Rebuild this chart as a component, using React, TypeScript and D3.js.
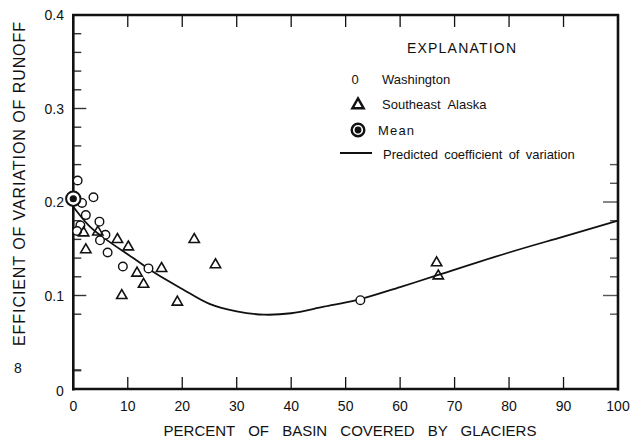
import React from "react";
import * as d3 from "d3";

const washington: [number, number][] = [
  [0.8, 0.223], [3.7, 0.205], [1.6, 0.199], [2.3, 0.186], [1.3, 0.175],
  [4.8, 0.179], [0.7, 0.169], [5.9, 0.165], [4.9, 0.159], [6.3, 0.146],
  [9.1, 0.131], [13.8, 0.129], [52.7, 0.095],
];
const alaska: [number, number][] = [
  [1.9, 0.168], [4.5, 0.169], [2.3, 0.15], [8.1, 0.161], [10.1, 0.153],
  [11.7, 0.125], [12.9, 0.113], [8.9, 0.101], [16.2, 0.13], [22.2, 0.161],
  [19.1, 0.094], [26.1, 0.134], [66.7, 0.136], [67.0, 0.122],
];
const meanPoint: [number, number] = [0, 0.2035];
const predicted: [number, number][] = [
  [0, 0.195], [3, 0.174], [6, 0.16], [11, 0.14], [15, 0.124], [20, 0.107],
  [25, 0.091], [30, 0.083], [35, 0.0795], [40, 0.081], [46, 0.088], [52, 0.095],
  [60, 0.109], [67, 0.122], [80, 0.146], [90, 0.163], [100, 0.18],
];
const xTicks = [0, 10, 20, 30, 40, 50, 60, 70, 80, 90, 100];
const yLabels = ["0.4", "0.3", "0.2", "0.1"];
const yLabelValues = [0.4, 0.3, 0.2, 0.1];
const leftTicks = [0.02, 0.08, 0.1, 0.12, 0.14, 0.16, 0.18, 0.2, 0.22, 0.24, 0.26, 0.28, 0.3, 0.32, 0.34, 0.36, 0.38];
const rightTicks = [0.08, 0.1, 0.12, 0.14, 0.16, 0.18, 0.2, 0.22, 0.24];

const FONT = "'Liberation Sans', Arial, sans-serif";

export default function App() {
  const x = d3.scaleLinear().domain([0, 100]).range([73.3, 618]);
  const y = d3.scaleLinear().domain([0, 0.4]).range([389, 15]);
  const line = d3
    .line<[number, number]>()
    .x((d) => x(d[0]))
    .y((d) => y(d[1]))
    .curve(d3.curveCatmullRom.alpha(0.5));
  const tri = d3.symbol(d3.symbolTriangle, 46)() as string;
  const triLegend = d3.symbol(d3.symbolTriangle, 56)() as string;
  const isMajor = (v: number) => Math.abs(v * 10 - Math.round(v * 10)) < 1e-6;
  const ink = "#111";

  return (
    <svg width={631} height={438} style={{ position: "absolute", left: 0, top: 0, background: "#fff" }} fontFamily={FONT}>
      <rect x={0} y={0} width={631} height={438} fill="#fff" />
      {leftTicks.map((v) => (
        <line key={"lt" + v} x1={x(0)} x2={x(0) + (isMajor(v) ? 13 : 8)} y1={y(v)} y2={y(v)} stroke="#333" strokeWidth={v === 0.02 ? 2.2 : 1.4} />
      ))}
      {rightTicks.map((v) => (
        <line key={"rt" + v} x1={x(100)} x2={x(100) - (isMajor(v) ? 15 : 8)} y1={y(v)} y2={y(v)} stroke="#555" strokeWidth={1.4} />
      ))}
      {xTicks.map((v) => (
        <g key={"xt" + v}>
          {v > 0 && v < 100 && (
            <>
              <line x1={x(v)} x2={x(v)} y1={y(0.4)} y2={y(0.4) + 12} stroke={ink} strokeWidth={1.3} />
              <line x1={x(v)} x2={x(v)} y1={y(0)} y2={y(0) - 12} stroke={ink} strokeWidth={1.3} />
            </>
          )}
          <text x={x(v)} y={411} fontSize={14} textAnchor="middle" fill={ink}>{v}</text>
        </g>
      ))}
      <line x1={x(0)} x2={x(0)} y1={y(0.4) - 1} y2={y(0) + 1.5} stroke={ink} strokeWidth={2.6} />
      <line x1={x(100)} x2={x(100)} y1={y(0.4) - 1} y2={y(0) + 1.5} stroke={ink} strokeWidth={2.6} />
      <line x1={x(0) - 1} x2={x(100) + 1} y1={y(0.4)} y2={y(0.4)} stroke={ink} strokeWidth={2.6} />
      <line x1={x(0) - 1} x2={x(100) + 1} y1={y(0)} y2={y(0)} stroke={ink} strokeWidth={2.6} />

      {yLabels.map((t, i) => (
        <text key={t} x={64} y={y(yLabelValues[i]) + 5} fontSize={14} textAnchor="end" fill={ink}>{t}</text>
      ))}
      <text x={60} y={y(0) + 7} fontSize={14} textAnchor="middle" fill={ink}>0</text>
      <text x={18} y={y(0.02) + 3} fontSize={14} textAnchor="middle" fill={ink}>8</text>

      <text
        transform={`translate(25,184) rotate(-90)`}
        fontSize={16}
        textAnchor="middle"
        textLength={324}
        lengthAdjust="spacing"
        fill={ink}
      >
        EFFICIENT OF VARIATION OF RUNOFF
      </text>
      <text x={350} y={436} fontSize={15} textAnchor="middle" wordSpacing={9} fill={ink}>
        PERCENT OF BASIN COVERED BY GLACIERS
      </text>

      <path d={line(predicted) as string} fill="none" stroke={ink} strokeWidth={1.8} />

      {washington.map((d, i) => (
        <circle key={"w" + i} cx={x(d[0])} cy={y(d[1])} r={4.3} fill="#fff" stroke={ink} strokeWidth={1.4} />
      ))}
      {alaska.map((d, i) => (
        <path key={"a" + i} d={tri} transform={`translate(${x(d[0])},${y(d[1]) + 1})`} fill="none" stroke={ink} strokeWidth={1.6} />
      ))}
      <circle cx={x(meanPoint[0])} cy={y(meanPoint[1])} r={7.2} fill="#fff" stroke={ink} strokeWidth={2} />
      <circle cx={x(meanPoint[0])} cy={y(meanPoint[1])} r={3.6} fill={ink} />

      <text x={407} y={53} fontSize={14} textLength={109} lengthAdjust="spacing" fill={ink}>EXPLANATION</text>
      <text x={355} y={83.5} fontSize={13} textAnchor="middle" fill={ink}>0</text>
      <text x={382} y={83.5} fontSize={13} fill={ink}>Washington</text>
      <path d={triLegend} transform="translate(358,105)" fill="none" stroke={ink} strokeWidth={2.4} />
      <text x={382} y={108.5} fontSize={13} wordSpacing={4} fill={ink}>Southeast Alaska</text>
      <circle cx={358} cy={130} r={6.3} fill="#fff" stroke={ink} strokeWidth={2.4} />
      <circle cx={358} cy={130} r={3.4} fill={ink} />
      <text x={378} y={135} fontSize={13} textLength={36} lengthAdjust="spacing" fill={ink}>Mean</text>
      <line x1={340} x2={372} y1={153} y2={153} stroke={ink} strokeWidth={2} />
      <text x={383} y={158.5} fontSize={13} wordSpacing={2.6} fill={ink}>Predicted coefficient of variation</text>
    </svg>
  );
}
